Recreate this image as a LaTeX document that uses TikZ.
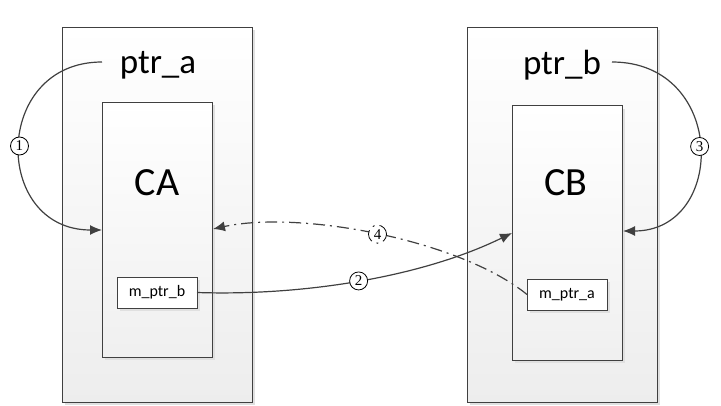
\documentclass[tikz,border=0pt]{standalone}
\usepackage{fontspec}
\setmainfont{Carlito}
\newfontfamily\numfont{Liberation Serif}
\usetikzlibrary{arrows.meta}
\definecolor{ln}{HTML}{404040}
\tikzset{
  outerbox/.style={draw=ln, line width=0.9pt, top color=white, bottom color=black!7, minimum width=190pt, minimum height=375pt, inner sep=0pt, outer sep=0pt},
  innerbox/.style={draw=ln, line width=0.9pt, top color=white, bottom color=black!6, minimum width=110pt, minimum height=255pt, inner sep=0pt, outer sep=0pt},
  membox/.style={draw=ln, line width=0.8pt, fill=white, minimum width=80pt, minimum height=31pt, inner sep=0pt, outer sep=0pt, font=\fontsize{16}{16}\selectfont},
  shadowbox/.style={fill=black!12, draw=none},
  bigtext/.style={font=\fontsize{35}{35}\selectfont, inner sep=0pt},
  cltext/.style={font=\fontsize{40}{40}\selectfont, inner sep=0pt},
  conn/.style={draw=ln, line width=1.2pt, -{Latex[length=12pt,width=10pt]}},
  dashconn/.style={conn, dash pattern=on 12pt off 5pt on 2pt off 5pt},
  numlbl/.style={circle, draw=black, line width=0.8pt, fill=white, minimum size=18pt, inner sep=0pt, font=\numfont\fontsize{15}{15}\selectfont, text=black}
}
\begin{document}
\begin{tikzpicture}[x=1pt,y=-1pt]
\useasboundingbox (0,0) rectangle (721,406);
% shadows
\fill[shadowbox] (65,30) rectangle (255,405);
\fill[shadowbox] (470,30) rectangle (660,405);
% outer boxes
\node[outerbox] (A) at (157,214.5) {};
\node[outerbox] (B) at (562,214.5) {};
\fill[shadowbox] (105,105) rectangle (215,360);
\fill[shadowbox] (515,109) rectangle (625,363);
\node[innerbox] (CAbox) at (157,229.5) {};
\node[innerbox] (CBbox) at (567,233) {};
\fill[shadowbox] (120,280) rectangle (200,311);
\fill[shadowbox] (530,282) rectangle (610,313);
\node[membox] (mb) at (157,292.5) {m\_ptr\_b};
\node[membox] (ma) at (567,294.5) {m\_ptr\_a};
% texts
\node[bigtext] (pa) at (158,65) {ptr\_a};
\node[bigtext] (pb) at (562,65) {ptr\_b};
\node[cltext] (ca) at (157,183) {CA};
\node[cltext] (cb) at (566,183) {CB};
% connectors
\coordinate (pas) at (102,62);
\coordinate (pbs) at (612,62);
\coordinate (caL) at (102,230);
\coordinate (caR) at (213,229);
\coordinate (cbL) at (512,233);
\coordinate (cbR) at (623,231);
\draw[conn] (pas) .. controls (-8,62) and (-8,230) .. (caL)
  node[pos=0.5, numlbl] (n1) {1};
\draw[conn] (pbs) .. controls (727,62) and (727,231) .. (cbR)
  node[pos=0.5, numlbl] (n3) {3};
\draw[conn] (mb.east) .. controls (300,296) and (420,278) .. (cbL)
  node[pos=0.5, numlbl] (n2) {2};
\draw[dashconn] (ma.west) .. controls (460,240) and (300,210) .. (caR)
  node[pos=0.5, numlbl] (n4) {4};
\end{tikzpicture}
\end{document}
